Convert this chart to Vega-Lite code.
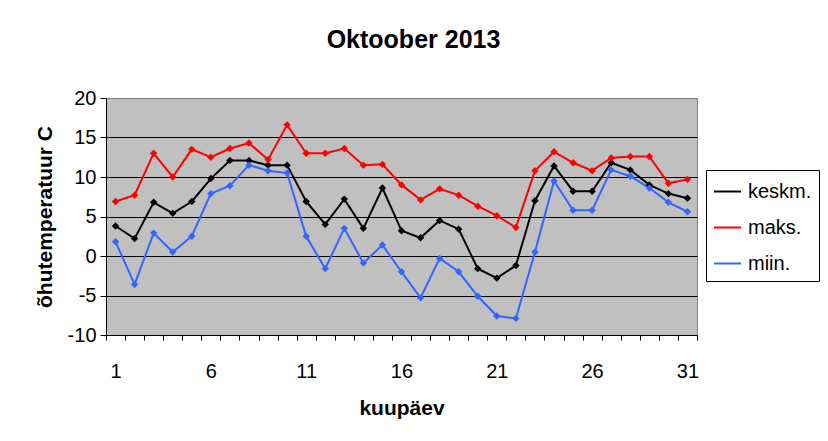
{
  "$schema": "https://vega.github.io/schema/vega-lite/v6.json",
  "autosize": {"type": "none"},
  "padding": {"left": 106, "top": 98, "right": 131, "bottom": 106},
  "width": 591,
  "height": 237,
  "background": "white",
  "title": {
    "text": "Oktoober 2013",
    "font": "Liberation Sans",
    "fontSize": 25,
    "fontWeight": "bold",
    "color": "black",
    "anchor": "middle",
    "baseline": "alphabetic",
    "dx": 12,
    "offset": 15
  },
  "data": {
    "values": [
      {"day": 1, "series": "keskm.", "temp": 3.8},
      {"day": 2, "series": "keskm.", "temp": 2.2},
      {"day": 3, "series": "keskm.", "temp": 6.8},
      {"day": 4, "series": "keskm.", "temp": 5.4},
      {"day": 5, "series": "keskm.", "temp": 6.9},
      {"day": 6, "series": "keskm.", "temp": 9.8},
      {"day": 7, "series": "keskm.", "temp": 12.1},
      {"day": 8, "series": "keskm.", "temp": 12.1},
      {"day": 9, "series": "keskm.", "temp": 11.5},
      {"day": 10, "series": "keskm.", "temp": 11.5},
      {"day": 11, "series": "keskm.", "temp": 6.9},
      {"day": 12, "series": "keskm.", "temp": 4.0},
      {"day": 13, "series": "keskm.", "temp": 7.2},
      {"day": 14, "series": "keskm.", "temp": 3.5},
      {"day": 15, "series": "keskm.", "temp": 8.6},
      {"day": 16, "series": "keskm.", "temp": 3.2},
      {"day": 17, "series": "keskm.", "temp": 2.3},
      {"day": 18, "series": "keskm.", "temp": 4.5},
      {"day": 19, "series": "keskm.", "temp": 3.4},
      {"day": 20, "series": "keskm.", "temp": -1.6},
      {"day": 21, "series": "keskm.", "temp": -2.8},
      {"day": 22, "series": "keskm.", "temp": -1.2},
      {"day": 23, "series": "keskm.", "temp": 7.0},
      {"day": 24, "series": "keskm.", "temp": 11.4},
      {"day": 25, "series": "keskm.", "temp": 8.2},
      {"day": 26, "series": "keskm.", "temp": 8.2},
      {"day": 27, "series": "keskm.", "temp": 11.8},
      {"day": 28, "series": "keskm.", "temp": 10.9},
      {"day": 29, "series": "keskm.", "temp": 9.0},
      {"day": 30, "series": "keskm.", "temp": 7.9},
      {"day": 31, "series": "keskm.", "temp": 7.3},
      {"day": 1, "series": "maks.", "temp": 6.9},
      {"day": 2, "series": "maks.", "temp": 7.7},
      {"day": 3, "series": "maks.", "temp": 13.0},
      {"day": 4, "series": "maks.", "temp": 10.0},
      {"day": 5, "series": "maks.", "temp": 13.5},
      {"day": 6, "series": "maks.", "temp": 12.5},
      {"day": 7, "series": "maks.", "temp": 13.6},
      {"day": 8, "series": "maks.", "temp": 14.3},
      {"day": 9, "series": "maks.", "temp": 12.2},
      {"day": 10, "series": "maks.", "temp": 16.6},
      {"day": 11, "series": "maks.", "temp": 13.0},
      {"day": 12, "series": "maks.", "temp": 13.0},
      {"day": 13, "series": "maks.", "temp": 13.6},
      {"day": 14, "series": "maks.", "temp": 11.5},
      {"day": 15, "series": "maks.", "temp": 11.6},
      {"day": 16, "series": "maks.", "temp": 9.0},
      {"day": 17, "series": "maks.", "temp": 7.1},
      {"day": 18, "series": "maks.", "temp": 8.5},
      {"day": 19, "series": "maks.", "temp": 7.7},
      {"day": 20, "series": "maks.", "temp": 6.3},
      {"day": 21, "series": "maks.", "temp": 5.1},
      {"day": 22, "series": "maks.", "temp": 3.6},
      {"day": 23, "series": "maks.", "temp": 10.8},
      {"day": 24, "series": "maks.", "temp": 13.2},
      {"day": 25, "series": "maks.", "temp": 11.8},
      {"day": 26, "series": "maks.", "temp": 10.8},
      {"day": 27, "series": "maks.", "temp": 12.4},
      {"day": 28, "series": "maks.", "temp": 12.6},
      {"day": 29, "series": "maks.", "temp": 12.6},
      {"day": 30, "series": "maks.", "temp": 9.2},
      {"day": 31, "series": "maks.", "temp": 9.7},
      {"day": 1, "series": "miin.", "temp": 1.8},
      {"day": 2, "series": "miin.", "temp": -3.6},
      {"day": 3, "series": "miin.", "temp": 2.9},
      {"day": 4, "series": "miin.", "temp": 0.5},
      {"day": 5, "series": "miin.", "temp": 2.5},
      {"day": 6, "series": "miin.", "temp": 7.9},
      {"day": 7, "series": "miin.", "temp": 8.9},
      {"day": 8, "series": "miin.", "temp": 11.5},
      {"day": 9, "series": "miin.", "temp": 10.8},
      {"day": 10, "series": "miin.", "temp": 10.5},
      {"day": 11, "series": "miin.", "temp": 2.5},
      {"day": 12, "series": "miin.", "temp": -1.6},
      {"day": 13, "series": "miin.", "temp": 3.5},
      {"day": 14, "series": "miin.", "temp": -0.9},
      {"day": 15, "series": "miin.", "temp": 1.4},
      {"day": 16, "series": "miin.", "temp": -2.0},
      {"day": 17, "series": "miin.", "temp": -5.3},
      {"day": 18, "series": "miin.", "temp": -0.3},
      {"day": 19, "series": "miin.", "temp": -2.0},
      {"day": 20, "series": "miin.", "temp": -5.1},
      {"day": 21, "series": "miin.", "temp": -7.6},
      {"day": 22, "series": "miin.", "temp": -7.9},
      {"day": 23, "series": "miin.", "temp": 0.5},
      {"day": 24, "series": "miin.", "temp": 9.5},
      {"day": 25, "series": "miin.", "temp": 5.8},
      {"day": 26, "series": "miin.", "temp": 5.8},
      {"day": 27, "series": "miin.", "temp": 10.9},
      {"day": 28, "series": "miin.", "temp": 10.1},
      {"day": 29, "series": "miin.", "temp": 8.6},
      {"day": 30, "series": "miin.", "temp": 6.8},
      {"day": 31, "series": "miin.", "temp": 5.6}
    ]
  },
  "mark": {
    "type": "line",
    "strokeWidth": 2,
    "point": {"shape": "diamond", "size": 55, "filled": true}
  },
  "encoding": {
    "x": {
      "field": "day",
      "type": "quantitative",
      "scale": {"domain": [0.5, 31.5], "nice": false, "zero": false},
      "axis": {
        "title": "kuupäev",
        "values": [0.5, 1.5, 2.5, 3.5, 4.5, 5.5, 6.5, 7.5, 8.5, 9.5, 10.5, 11.5, 12.5, 13.5, 14.5, 15.5, 16.5, 17.5, 18.5, 19.5, 20.5, 21.5, 22.5, 23.5, 24.5, 25.5, 26.5, 27.5, 28.5, 29.5, 30.5, 31.5],
        "labelExpr": "(datum.value - 0.5) % 5 == 0 && datum.value < 31 ? format(datum.value + 0.5, 'd') : ''",
        "labelOffset": 9.5,
        "labelFlush": false,
        "labelOverlap": false,
        "labelBound": false,
        "labelPadding": 21,
        "tickSize": 5,
        "grid": false,
        "titlePadding": 16
      }
    },
    "y": {
      "field": "temp",
      "type": "quantitative",
      "scale": {"domain": [-10, 20], "nice": false, "zero": false},
      "axis": {
        "title": "õhutemperatuur C",
        "values": [-10, -5, 0, 5, 10, 15, 20],
        "labelExpr": "datum.value + ''",
        "tickSize": 6,
        "labelPadding": 4,
        "titlePadding": 12,
        "grid": true,
        "gridColor": {"condition": {"test": "datum.value == 20", "value": "#808080"}, "value": "black"}
      }
    },
    "color": {
      "field": "series",
      "type": "nominal",
      "scale": {"domain": ["keskm.", "maks.", "miin."], "range": ["#000000", "#FF0000", "#3366FF"]},
      "legend": {
        "title": null,
        "orient": "none",
        "legendX": 600,
        "legendY": 72,
        "symbolType": "stroke",
        "symbolSize": 729,
        "symbolStrokeWidth": 2,
        "labelFontSize": 20,
        "labelFont": "Liberation Sans",
        "labelColor": "black",
        "labelOffset": 6,
        "rowPadding": 11,
        "padding": 7,
        "strokeColor": "black",
        "fillColor": "white"
      }
    }
  },
  "config": {
    "font": "Liberation Sans",
    "view": {"fill": "#C0C0C0", "stroke": "#808080"},
    "axis": {
      "labelFont": "Liberation Sans",
      "labelFontSize": 20,
      "labelColor": "black",
      "titleFont": "Liberation Sans",
      "titleFontSize": 21,
      "titleFontWeight": "bold",
      "titleColor": "black",
      "domainColor": "black",
      "tickColor": "black",
      "gridWidth": 1
    }
  }
}
